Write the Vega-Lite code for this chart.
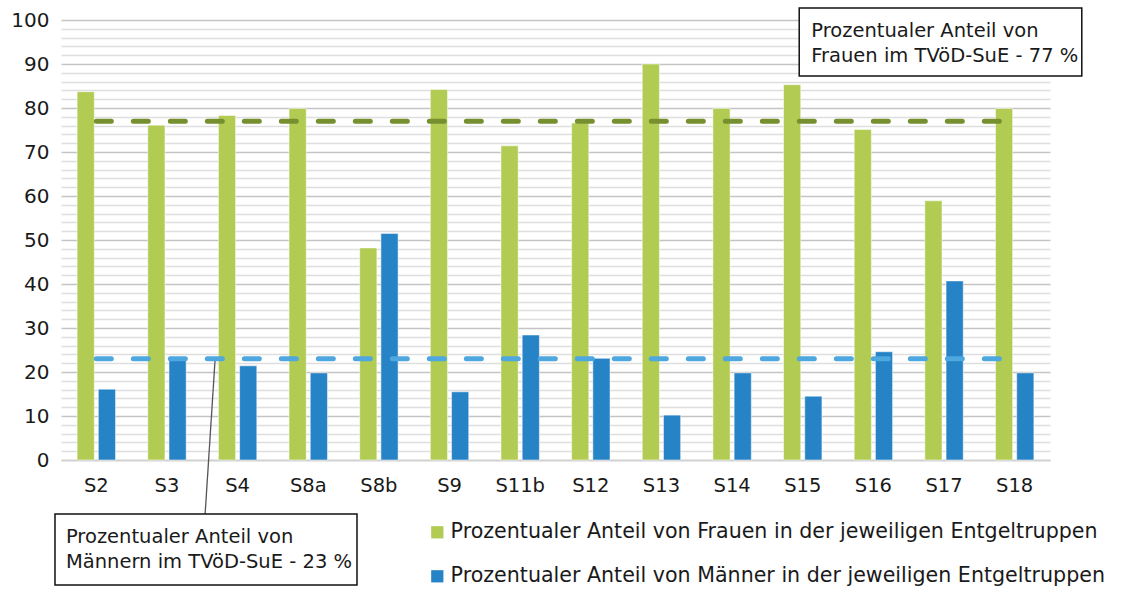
{
  "$schema": "https://vega.github.io/schema/vega-lite/v6.json",
  "width": 989,
  "height": 440,
  "autosize": {"type": "none"},
  "padding": {"left": 61, "top": 20, "right": 72, "bottom": 130},
  "background": "white",
  "config": {
    "view": {"stroke": null},
    "font": "DejaVu Sans",
    "axisX": {
      "title": null, "labelAngle": 0, "labelFontSize": 19.5, "labelColor": "#1a1a1a",
      "labelPadding": 16, "ticks": false, "domainColor": "#d0d0d0", "domainWidth": 1.5,
      "grid": false, "labelFont": "DejaVu Sans"
    },
    "axisY": {
      "title": null,
      "tickCount": 50,
      "labelOverlap": false,
      "labelExpr": "datum.value % 10 === 0 ? datum.label : ''",
      "labelFontSize": 20, "labelColor": "#1a1a1a", "labelPadding": 12,
      "ticks": false, "domain": false, "labelFont": "DejaVu Sans",
      "gridColor": {"condition": {"test": "datum.value % 10 === 0", "value": "#c4c4c4"}, "value": "#dedede"},
      "gridWidth": 1.5,
      "gridOpacity": 1
    }
  },
  "datasets": {
    "bars": [
      {"cat": "S2", "series": "F", "value": 83.7},
      {"cat": "S3", "series": "F", "value": 76.1},
      {"cat": "S4", "series": "F", "value": 78.3},
      {"cat": "S8a", "series": "F", "value": 79.9},
      {"cat": "S8b", "series": "F", "value": 48.2},
      {"cat": "S9", "series": "F", "value": 84.2},
      {"cat": "S11b", "series": "F", "value": 71.4},
      {"cat": "S12", "series": "F", "value": 76.6},
      {"cat": "S13", "series": "F", "value": 90.0},
      {"cat": "S14", "series": "F", "value": 79.9},
      {"cat": "S15", "series": "F", "value": 85.3},
      {"cat": "S16", "series": "F", "value": 75.1},
      {"cat": "S17", "series": "F", "value": 58.9},
      {"cat": "S18", "series": "F", "value": 79.9},
      {"cat": "S2", "series": "M", "value": 16.1},
      {"cat": "S3", "series": "M", "value": 23.2},
      {"cat": "S4", "series": "M", "value": 21.4},
      {"cat": "S8a", "series": "M", "value": 19.8},
      {"cat": "S8b", "series": "M", "value": 51.5},
      {"cat": "S9", "series": "M", "value": 15.5},
      {"cat": "S11b", "series": "M", "value": 28.4},
      {"cat": "S12", "series": "M", "value": 23.1},
      {"cat": "S13", "series": "M", "value": 10.2},
      {"cat": "S14", "series": "M", "value": 19.8},
      {"cat": "S15", "series": "M", "value": 14.5},
      {"cat": "S16", "series": "M", "value": 24.6},
      {"cat": "S17", "series": "M", "value": 40.7},
      {"cat": "S18", "series": "M", "value": 19.8}
    ],
    "one": [{"id": 1}]
  },
  "layer": [
    {
      "data": {"name": "bars"},
      "mark": {"type": "bar", "stroke": "white", "strokeWidth": 0.5},
      "encoding": {
        "x": {
          "field": "cat", "type": "nominal", "sort": null,
          "scale": {"paddingInner": 0, "paddingOuter": 0}
        },
        "xOffset": {
          "field": "series", "type": "nominal",
          "scale": {"domain": ["F", "M"], "paddingInner": 0.19, "paddingOuter": 0.76}
        },
        "y": {
          "field": "value", "type": "quantitative",
          "scale": {"domain": [0, 100], "nice": false}
        },
        "color": {
          "field": "series", "type": "nominal",
          "scale": {"domain": ["F", "M"], "range": ["#b1cb53", "#2683c6"]},
          "legend": {
            "title": null, "orient": "none", "legendX": 366, "legendY": 502,
            "direction": "vertical", "symbolType": "square", "symbolSize": 150,
            "symbolStrokeWidth": 0, "labelFontSize": 20.6, "labelColor": "#1a1a1a",
            "labelFont": "DejaVu Sans", "rowPadding": 23, "labelOffset": 3, "labelLimit": 900,
            "labelExpr": "datum.value === 'F' ? 'Prozentualer Anteil von Frauen in der jeweiligen Entgeltruppen' : 'Prozentualer Anteil von Männer in der jeweiligen Entgeltruppen'"
          }
        }
      }
    },
    {
      "data": {"name": "one"},
      "mark": {"type": "rule", "color": "#77902f", "strokeWidth": 5, "strokeDash": [15, 22], "strokeCap": "round"},
      "encoding": {
        "x": {"datum": "S2", "type": "nominal", "bandPosition": 0.5},
        "x2": {"datum": "S18", "bandPosition": 0.5},
        "y": {"datum": 77, "type": "quantitative"}
      }
    },
    {
      "data": {"name": "one"},
      "mark": {"type": "rule", "color": "#4ea7de", "strokeWidth": 5, "strokeDash": [15, 22], "strokeCap": "round"},
      "encoding": {
        "x": {"datum": "S2", "type": "nominal", "bandPosition": 0.5},
        "x2": {"datum": "S18", "bandPosition": 0.5},
        "y": {"datum": 23, "type": "quantitative"}
      }
    },
    {
      "data": {"name": "one"},
      "mark": {"type": "rule", "color": "#555555", "strokeWidth": 1.3},
      "encoding": {
        "x": {"datum": "S4", "type": "nominal", "bandPosition": 0.18},
        "x2": {"datum": "S4", "bandPosition": 0.04},
        "y": {"datum": 22.5, "type": "quantitative"},
        "y2": {"datum": -12.3}
      }
    },
    {
      "data": {"name": "one"},
      "mark": {"type": "rect", "fill": "white", "stroke": "#111111", "strokeWidth": 1.5},
      "encoding": {
        "x": {"datum": "S15", "type": "nominal", "bandPosition": 0.45},
        "x2": {"datum": "S18", "bandPosition": 1.45},
        "y": {"datum": 102.7, "type": "quantitative"},
        "y2": {"datum": 87.3}
      }
    },
    {
      "data": {"name": "one"},
      "mark": {"type": "rect", "fill": "white", "stroke": "#111111", "strokeWidth": 1.5},
      "encoding": {
        "x": {"datum": "S2", "type": "nominal", "bandPosition": -0.085},
        "x2": {"datum": "S8b", "bandPosition": 0.19},
        "y": {"datum": -12.3, "type": "quantitative"},
        "y2": {"datum": -28.4}
      }
    },
    {
      "data": {"name": "one"},
      "mark": {"type": "text", "align": "left", "baseline": "middle", "fontSize": 19.5, "lineHeight": 25, "color": "#1a1a1a", "font": "DejaVu Sans"},
      "encoding": {
        "x": {"datum": "S15", "type": "nominal", "bandPosition": 0.62},
        "y": {"datum": 97.6, "type": "quantitative"},
        "text": {"value": ["Prozentualer Anteil von", "Frauen im TVöD-SuE - 77 %"]}
      }
    },
    {
      "data": {"name": "one"},
      "mark": {"type": "text", "align": "left", "baseline": "middle", "fontSize": 19.5, "lineHeight": 25, "color": "#1a1a1a", "font": "DejaVu Sans"},
      "encoding": {
        "x": {"datum": "S2", "type": "nominal", "bandPosition": 0.07},
        "y": {"datum": -17.6, "type": "quantitative"},
        "text": {"value": ["Prozentualer Anteil von", "Männern im TVöD-SuE - 23 %"]}
      }
    }
  ]
}
